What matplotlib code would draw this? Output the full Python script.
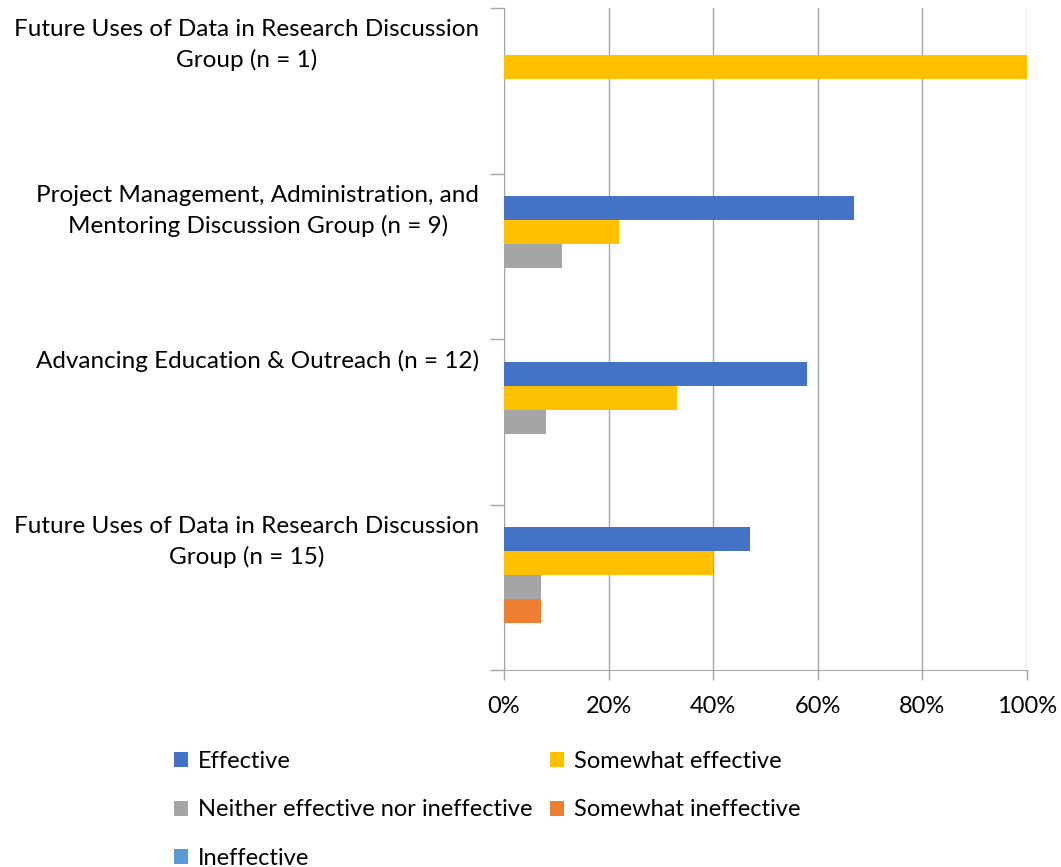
import numpy as np
import matplotlib.pyplot as plt

plt.rcParams['font.family'] = ['Lato', 'DejaVu Sans']

# categories, top to bottom as drawn
groups = ['Future Uses of Data in Research Discussion\nGroup (n = 1)',
          'Project Management, Administration, and\nMentoring Discussion Group (n = 9)',
          'Advancing Education & Outreach (n = 12)',
          'Future Uses of Data in Research Discussion\nGroup (n = 15)']

series = ['Effective', 'Somewhat effective', 'Neither effective nor ineffective',
          'Somewhat ineffective', 'Ineffective']
colors = ['#4472C4', '#FFC000', '#A5A5A5', '#ED7D31', '#5B9BD5']

# percent per group (same order as groups)
effective = [0, 67, 58, 47]
somewhat_eff = [100, 22, 33, 40]
neither = [0, 11, 8, 7]
somewhat_ineff = [0, 0, 0, 7]
ineffective = [0, 0, 0, 0]
values = [effective, somewhat_eff, neither, somewhat_ineff, ineffective]

fig = plt.figure(figsize=(10.61, 8.67), dpi=100)
ax = fig.add_axes([504/1061, 1-670/867, 523/1061, 662/867])

y = np.arange(len(groups))
h = 0.145
for k, (name, vals, c) in enumerate(zip(series, values, colors)):
    ax.barh(y + (k - 2) * h, vals, height=h, color=c, label=name, zorder=3)

ax.set_xlim(0, 100)
ax.set_ylim(3.5, -0.5)
ax.set_xticks(np.arange(0, 101, 20))
ax.set_xticklabels([f'{v}%' for v in range(0, 101, 20)], fontsize=17)
ax.grid(axis='x', color='#a6a6a6', linewidth=1, zorder=0)

# category boundaries as major ticks, labels as minor ticks
ax.set_yticks(np.arange(-0.5, 4, 1))
ax.set_yticklabels([])
ax.set_yticks(y - 0.5 + 0.068, minor=True)
ax.set_yticklabels(groups, minor=True, fontsize=17.5, va='top', ha='right',
                   multialignment='center', linespacing=1.5)
ax.tick_params(axis='y', which='major', length=10, color='#a6a6a6', width=1)
ax.tick_params(axis='y', which='minor', length=0, pad=18)
ax.tick_params(axis='x', length=7, color='#a6a6a6', width=1, pad=12)

for s in ['top', 'right']:
    ax.spines[s].set_visible(False)
for s in ['left', 'bottom']:
    ax.spines[s].set_color('#a6a6a6')

# legend fills column by column, so reorder to read row by row
handles, labels = ax.get_legend_handles_labels()
order = [0, 2, 4, 1, 3]
fig.legend([handles[i] for i in order], [labels[i] for i in order], ncol=2,
           loc='upper left', bbox_to_anchor=(153/1061, 1-730/867),
           frameon=False, fontsize=17,
           handlelength=0.6, handleheight=0.6, handletextpad=0.4,
           labelspacing=1.15, columnspacing=0.75)

fig.savefig('out.png', dpi=100)
